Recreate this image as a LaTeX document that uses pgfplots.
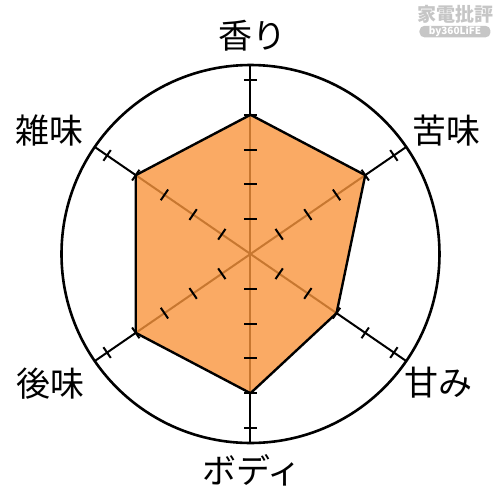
\documentclass[border=0pt]{standalone}
\usepackage{fontspec}
\setmainfont{Noto Sans CJK JP}
\usepackage{pgfplots}
\pgfplotsset{compat=1.18}
\usepgfplotslibrary{polar}

\definecolor{tasteorange}{RGB}{249,149,61}
\definecolor{wmgray}{RGB}{198,198,198}

\begin{document}
\begin{tikzpicture}
\path[use as bounding box] (0pt,0pt) rectangle (250pt,250pt);

\begin{polaraxis}[
  at={(125.25pt,123pt)}, anchor=center,
  scale only axis, width=189pt, height=189pt,
  ymin=0, ymax=5.43,
  xtick=\empty, ytick=\empty,
  separate axis lines,
  x axis line style={line width=1.3pt, black},
  y axis line style={draw=none},
  clip=false,
]
% spokes with a tick at each level
\pgfplotsinvokeforeach{90,34.5,-34.5,-90,-145.5,145.5}{
  \addplot[black, line width=1pt, no marks] coordinates {(#1,0) (#1,5.43)};
  \addplot[black, only marks, mark=|, mark size=3.25pt,
    mark options={rotate=#1, line width=1pt}]
    coordinates {(#1,1) (#1,2) (#1,3) (#1,4) (#1,5)};
}
% scores: 香り, 苦味, 甘み, ボディ, 後味, 雑味
\addplot[draw=black, line width=1.2pt, line join=round, line cap=round,
  fill=tasteorange, fill opacity=0.8, no marks]
  coordinates {(90,4) (34.5,4) (-34.5,3) (-90,4) (-145.5,4) (145.5,4) (90,4)};
\end{polaraxis}

\begin{scope}[every node/.style={font=\fontsize{17pt}{20pt}\selectfont, inner sep=0pt}]
\node at (126.5pt,232pt) {香り};
\node at (223.5pt,184.5pt) {苦味};
\node at (219.5pt,58.5pt) {甘み};
\node at (126pt,15pt) {ボディ};
\node at (25.5pt,58pt) {後味};
\node at (25pt,185pt) {雑味};
\end{scope}

% watermark
\node[text=wmgray, inner sep=0pt, font=\fontsize{9.5pt}{10pt}\selectfont\bfseries]
  at (228pt,243pt) {家電批評};
\node[fill=wmgray, rounded corners=2.5pt, minimum width=35.5pt, minimum height=5.8pt,
  inner sep=0pt, text=white, font=\fontsize{5pt}{5pt}\selectfont\bfseries]
  at (227.5pt,234.2pt) {by360LiFE};
\end{tikzpicture}
\end{document}
